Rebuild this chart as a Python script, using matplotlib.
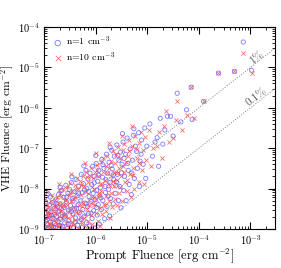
import matplotlib
matplotlib.use('Agg')
import matplotlib.pyplot as plt
import numpy as np

plt.rcParams['font.family'] = 'serif'
plt.rcParams['font.serif'] = ['cmr10', 'DejaVu Serif']
plt.rcParams['mathtext.fontset'] = 'cm'
plt.rcParams['axes.unicode_minus'] = False
plt.rcParams['axes.formatter.use_mathtext'] = True

# log10 of prompt / VHE fluence [erg cm^-2]
n1_prompt = [-6.99, -6.98, -6.97, -6.96, -6.95, -6.93, -6.92, -6.91, -6.90,
             -6.89, -6.88, -6.87, -6.85, -6.84, -6.83, -6.81, -6.80, -6.79,
             -6.78, -6.77, -6.76, -6.74, -6.73, -6.72, -6.70, -6.71,
             -6.69, -6.68, -6.66, -6.65, -6.64, -6.62, -6.61, -6.60,
             -6.59, -6.58, -6.57, -6.55, -6.54, -6.53, -6.52, -6.51,
             -6.49, -6.48, -6.47, -6.45, -6.44, -6.43, -6.42, -6.41,
             -6.39, -6.38, -6.36, -6.35, -6.34, -6.33, -6.32, -6.31,
             -6.29, -6.28, -6.27, -6.26, -6.25, -6.24, -6.23, -6.21,
             -6.19, -6.18, -6.17, -6.16, -6.15, -6.14, -6.13, -6.12, -6.11,
             -6.09, -6.08, -6.07, -6.06, -6.05, -6.04, -6.03, -6.02, -6.01,
             -5.99, -5.98, -5.97, -5.96, -5.95, -5.94, -5.93, -5.92, -5.91,
             -5.89, -5.88, -5.87, -5.86, -5.84, -5.83, -5.82, -5.81,
             -5.79, -5.78, -5.77, -5.75, -5.74, -5.73, -5.72, -5.71,
             -5.69, -5.68, -5.66, -5.65, -5.64, -5.62, -5.61,
             -5.59, -5.58, -5.56, -5.55, -5.53, -5.52, -5.51,
             -5.49, -5.47, -5.46, -5.44, -5.42, -5.41,
             -5.39, -5.37, -5.35, -5.33, -5.31,
             -5.29, -5.27, -5.25, -5.23,
             -5.19, -5.17, -5.15, -5.12, -5.11,
             -5.08, -5.05, -5.03, -5.01,
             -4.95, -4.90, -4.85, -4.81, -4.78, -4.75, -4.70, -4.66, -4.61, -4.55,
             -4.50, -4.42, -4.35, -4.24, -4.15, -4.13, -3.91, -3.62, -3.31, -3.14, -2.98,
             -6.97, -6.94, -6.88, -6.86, -6.82, -6.75, -6.73, -6.69, -6.63, -6.61,
             -6.56, -6.53, -6.47, -6.44, -6.40, -6.37, -6.33, -6.28, -6.22, -6.18,
             -6.14, -6.09, -6.03, -5.98, -5.94, -5.90, -5.86, -5.80, -5.76, -5.70,
             -5.66, -5.60, -5.57, -5.50, -5.45, -5.38, -5.30, -5.21, -5.14, -6.92,
             -6.68, -6.46, -6.23, -6.00, -5.72, -5.48, -5.26]
n1_vhe = [-8.95, -8.62, -8.80, -8.48, -8.71, -8.90, -8.55, -8.99, -8.66,
          -8.40, -8.83, -8.58, -8.93, -8.35, -8.74, -8.50, -8.87, -8.64,
          -8.97, -8.28, -8.69, -8.45, -8.81, -8.15, -8.56, -8.92,
          -8.38, -8.76, -8.05, -8.60, -8.95, -8.22, -8.47, -8.85,
          -8.68, -7.92, -8.33, -8.99, -8.12, -8.54, -8.78, -8.02,
          -8.42, -8.88, -7.85, -8.25, -8.63, -8.96, -8.08, -8.50,
          -8.73, -7.78, -8.18, -8.91, -8.40, -7.95, -8.60, -8.82,
          -8.30, -7.65, -8.97, -8.10, -8.52, -7.88, -8.70, -8.36,
          -7.55, -8.85, -8.00, -8.45, -7.76, -8.62, -8.20, -8.93, -7.62,
          -8.32, -7.90, -8.74, -7.45, -8.12, -8.55, -7.70, -8.98, -8.28,
          -7.38, -8.05, -8.66, -7.82, -8.40, -7.55, -8.88, -8.18, -7.98,
          -8.52, -7.28, -7.72, -8.30, -7.50, -8.75, -7.95, -8.10,
          -7.15, -8.45, -7.62, -8.02, -7.35, -8.68, -7.85, -8.25,
          -7.05, -7.52, -8.38, -7.78, -7.20, -8.12, -7.92,
          -6.92, -7.65, -8.30, -7.30, -7.95, -7.10, -8.48,
          -7.40, -6.85, -8.05, -7.70, -7.15, -8.30,
          -6.75, -7.55, -7.90, -7.02, -8.15,
          -7.30, -6.68, -7.75, -6.95,
          -7.50, -6.62, -7.95, -7.15, -6.80,
          -7.40, -6.50, -7.75, -6.95,
          -6.40, -7.20, -6.85, -6.74, -7.45, -6.26, -6.90, -6.55, -6.21, -6.21,
          -6.70, -5.64, -6.35, -6.05, -5.49, -6.29, -5.84, -5.14, -5.10, -4.37, -5.07,
          -8.33, -8.77, -8.21, -8.66, -8.96, -8.39, -8.58, -8.92, -8.43, -8.71,
          -8.21, -8.89, -8.57, -8.31, -8.83, -8.49, -8.13, -8.77, -8.04, -8.38,
          -8.07, -8.61, -7.86, -8.47, -7.67, -8.23, -7.41, -7.78, -8.19, -7.43,
          -7.66, -7.84, -7.18, -7.61, -7.25, -7.38, -7.62, -7.08, -7.32, -8.14,
          -7.97, -7.71, -7.44, -7.18, -6.98, -6.64, -6.52]

n10_prompt = [-6.995, -6.98, -6.965, -6.95, -6.94, -6.925, -6.91, -6.90, -6.915,
              -6.89, -6.875, -6.86, -6.85, -6.835, -6.82, -6.81, -6.80, -6.79,
              -6.785, -6.77, -6.755, -6.74, -6.73, -6.715, -6.70, -6.705,
              -6.695, -6.68, -6.67, -6.655, -6.64, -6.63, -6.615, -6.60,
              -6.595, -6.58, -6.565, -6.55, -6.54, -6.525, -6.51, -6.50,
              -6.495, -6.48, -6.465, -6.45, -6.44, -6.425, -6.41, -6.40,
              -6.395, -6.38, -6.365, -6.35, -6.34, -6.325, -6.31, -6.30,
              -6.295, -6.28, -6.265, -6.25, -6.24, -6.225, -6.21, -6.20,
              -6.195, -6.18, -6.165, -6.15, -6.14, -6.125, -6.11, -6.10, -6.12,
              -6.095, -6.08, -6.065, -6.05, -6.04, -6.025, -6.01, -6.00, -6.06,
              -5.995, -5.98, -5.965, -5.95, -5.94, -5.925, -5.91, -5.90, -5.92,
              -5.895, -5.88, -5.865, -5.85, -5.84, -5.825, -5.81, -5.80,
              -5.795, -5.78, -5.765, -5.75, -5.74, -5.725, -5.71, -5.70,
              -5.695, -5.68, -5.665, -5.65, -5.64, -5.625, -5.61,
              -5.595, -5.58, -5.565, -5.55, -5.54, -5.525, -5.51,
              -5.495, -5.48, -5.46, -5.445, -5.43, -5.41,
              -5.39, -5.37, -5.355, -5.34, -5.32,
              -5.29, -5.27, -5.255, -5.24,
              -5.19, -5.17, -5.155, -5.13, -5.11,
              -5.09, -5.07, -5.04, -5.02,
              -4.96, -4.92, -4.88, -4.81, -4.77, -4.72, -4.68, -4.63, -4.58, -4.51,
              -4.45, -4.42, -4.32, -4.24, -4.15, -4.10, -3.91, -3.62, -3.31, -3.14, -2.98,
              -6.98, -6.93, -6.89, -6.84, -6.78, -6.76, -6.71, -6.66, -6.62, -6.57,
              -6.52, -6.49, -6.46, -6.42, -6.38, -6.34, -6.29, -6.26, -6.22, -6.17,
              -6.13, -6.07, -6.04, -5.97, -5.93, -5.88, -5.82, -5.78, -5.73, -5.67,
              -5.63, -5.58, -5.52, -5.47, -5.40, -5.35, -5.28, -5.20, -5.16, -6.95,
              -6.72, -6.48, -6.21, -5.99, -5.75, -5.50, -5.30]
n10_vhe = [-8.78, -8.50, -8.92, -8.58, -8.40, -8.70, -8.85, -8.45, -8.98,
           -8.62, -8.93, -8.32, -8.72, -8.52, -8.88, -8.40, -8.97, -8.28,
           -8.60, -8.82, -8.20, -8.94, -8.48, -8.68, -8.12, -8.35,
           -8.90, -8.55, -8.18, -8.72, -8.02, -8.42, -8.98, -8.28,
           -8.62, -8.86, -7.96, -8.40, -8.72, -8.15, -8.95, -8.50,
           -7.86, -8.30, -8.68, -8.05, -8.90, -8.45, -7.92, -8.78,
           -8.22, -8.58, -7.74, -8.98, -8.02, -8.40, -8.70, -7.82,
           -8.55, -8.15, -8.86, -7.68, -8.35, -7.95, -8.62, -8.92,
           -8.08, -7.58, -8.50, -8.80, -7.85, -8.28, -7.68, -8.66, -8.97,
           -7.48, -8.20, -8.88, -7.75, -8.42, -8.02, -7.58, -8.60, -8.35,
           -8.25, -7.42, -8.80, -7.68, -8.10, -8.48, -7.88, -7.35, -8.92,
           -8.05, -8.62, -7.58, -7.25, -8.38, -7.80, -8.18, -7.45,
           -8.55, -7.20, -7.90, -8.30, -7.48, -8.72, -7.70, -8.10,
           -7.32, -8.45, -7.08, -7.95, -7.60, -8.25, -7.15,
           -7.80, -8.40, -6.98, -7.50, -8.10, -7.25, -7.70,
           -8.30, -7.05, -7.60, -6.90, -7.85, -7.35,
           -8.05, -7.20, -6.80, -7.65, -8.20,
           -6.95, -7.48, -8.00, -6.70,
           -7.25, -7.85, -6.88, -6.60, -7.55,
           -7.05, -7.90, -6.72, -7.30,
           -6.55, -7.45, -7.00, -6.94, -6.60, -7.25, -6.45, -6.09, -6.85, -6.76,
           -6.30, -5.82, -6.55, -6.19, -5.49, -6.25, -5.84, -5.14, -5.10, -4.65, -5.14,
           -8.26, -8.64, -8.89, -8.17, -8.43, -8.76, -8.04, -8.47, -8.66, -8.29,
           -8.59, -8.12, -8.82, -8.25, -8.02, -8.61, -7.92, -8.44, -8.74, -7.72,
           -8.41, -7.96, -8.22, -7.54, -8.15, -7.88, -8.42, -7.62, -7.94, -7.82,
           -7.38, -7.62, -7.96, -7.44, -7.78, -7.08, -7.66, -7.02, -7.38, -8.08,
           -7.90, -7.64, -7.36, -7.12, -6.88, -6.70, -6.45]

efficiencies = [0.01, 0.001]
eff_labels = ['1%', '0.1%']

fig = plt.figure(figsize=(2.81, 2.68), dpi=100)
ax = fig.add_axes([0.157, 0.146, 0.822, 0.753])

ax.scatter(10 ** np.array(n1_prompt), 10 ** np.array(n1_vhe), s=9, marker='o',
           facecolors='none', edgecolors='#5a5aff', linewidths=0.6, alpha=0.8,
           label=r'n=1 cm$^{-3}$')
ax.scatter(10 ** np.array(n10_prompt), 10 ** np.array(n10_vhe), s=9, marker='x',
           color='#ff4a4a', linewidths=0.6, alpha=0.8, label=r'n=10 cm$^{-3}$')

xx = np.array([1e-7, 3e-3])
for eff, lab, ly in zip(efficiencies, eff_labels, [1.7e-5, 1.8e-6]):
    ax.plot(xx, eff * xx, ':', color='gray', lw=0.7)
    ax.text(1.35e-3, ly, lab, rotation=38, color='#555555', fontsize=8,
            ha='center', va='center')

ax.set_xscale('log')
ax.set_yscale('log')
ax.set_xlim(1e-7, 3e-3)
ax.set_ylim(1e-9, 1e-4)
ax.set_xlabel(r'Prompt Fluence [erg cm$^{-2}$]', fontsize=9, labelpad=0)
ax.set_ylabel(r'VHE Fluence [erg cm$^{-2}$]', fontsize=8.5)
ax.yaxis.set_label_coords(-0.12, 0.5)
ax.tick_params(which='both', direction='in', top=True, right=True, labelsize=7.5)
ax.tick_params(which='major', length=5, pad=3)
ax.tick_params(which='minor', length=2.5)
ax.legend(loc='upper left', frameon=False, fontsize=7, handletextpad=0.2,
          borderaxespad=0.4, labelspacing=0.2, handlelength=1.2, markerscale=1.3)

fig.savefig('out.png', dpi=100)
